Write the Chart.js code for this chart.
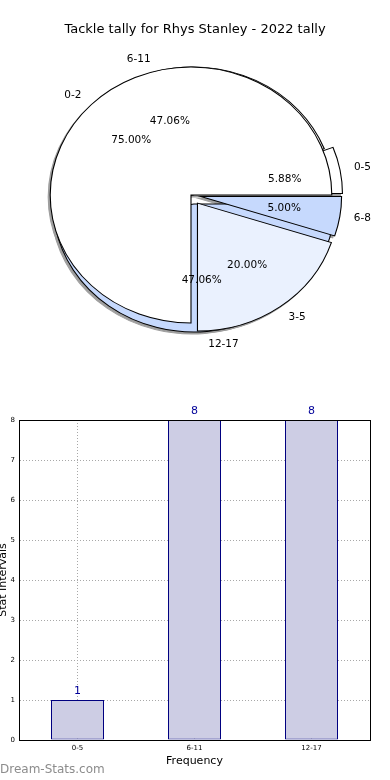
<!DOCTYPE html>
<html><head><meta charset="utf-8">
<script src="https://cdn.jsdelivr.net/npm/chart.js@4.4.1/dist/chart.umd.min.js"></script>
<style>
html,body{margin:0;padding:0;background:#fff;width:390px;height:780px;overflow:hidden;position:relative;}
#pieWrap{position:absolute;left:0;top:0;width:390px;height:390px;filter:drop-shadow(-2px 2px 0.6px rgba(0,0,0,0.38));}
#pieWrap canvas{position:absolute;left:0;top:0;}
#pieText{position:absolute;left:0;top:0;pointer-events:none;}
#bar{position:absolute;left:0;top:390px;}
</style></head><body>
<div id="pieWrap"><canvas id="pie1" width="390" height="390"></canvas><canvas id="pie2" width="390" height="390"></canvas></div>
<canvas id="pieText" width="390" height="390"></canvas>
<canvas id="bar" width="390" height="390"></canvas>
<script>
// ---- data ----
const titleText = 'Tackle tally for Rhys Stanley - 2022 tally';
const pieACategories = ['0-5', '6-11', '12-17'];
const pieAValues = [1, 8, 8];
const pieBCategories = ['0-2', '3-5', '6-8'];
const pieBValues = [75, 20, 5];
const barCategories = ['0-5', '6-11', '12-17'];
const barValues = [1, 8, 8];
const yTickMin = 0, yTickMax = 8, yTickStep = 1;
const xAxisTitle = 'Frequency';
const yAxisTitle = 'Stat Intervals';
const watermark = 'Dream-Stats.com';

// ---- style ----
const FONT = 'DejaVu Sans';
const pieAColors = ['#ffffff', '#ffffff', '#c6d9fd'];
const pieBColors = ['#ffffff', '#eaf1fe', '#c6d9fd'];
const pieAExplode = [8, 0, 9];
const pieBExplode = [0, 10, 9];
const RADIUS = 128;
const STRETCH = 1.1;

// matplotlib draws counter-clockwise from 3 o'clock; Chart.js clockwise -> reverse order, rotation 90
function rev(a){ return a.slice().reverse(); }

const explodePlugin = {
  id: 'explode',
  afterDatasetUpdate(chart, args) {
    const ex = chart.options.plugins.explode.values;
    const n = args.meta.data.length;
    args.meta.data.forEach((arc, i) => {
      const d = ex[n - 1 - i] || 0;
      const mid = (arc.startAngle + arc.endAngle) / 2;
      arc.x += Math.cos(mid) * d;
      arc.y += Math.sin(mid) * d;
    });
  },
  beforeDatasetsDraw(chart) {
    const ca = chart.chartArea;
    const cx = (ca.left + ca.right) / 2, cy = (ca.top + ca.bottom) / 2;
    const ctx = chart.ctx;
    ctx.save();
    ctx.translate(cx, cy); ctx.scale(STRETCH, 1); ctx.translate(-cx, -cy);
  },
  afterDatasetsDraw(chart) { chart.ctx.restore(); }
};

function pieConfig(values, colors, explode, padRight) {
  return {
    type: 'pie',
    data: { labels: [], datasets: [{
      data: rev(values), backgroundColor: rev(colors),
      borderColor: '#000', borderWidth: 1, borderJoinStyle: 'miter', hoverOffset: 0, clip: false
    }]},
    options: {
      responsive: false, animation: false, devicePixelRatio: 1,
      rotation: 90, radius: RADIUS,
      layout: { padding: { left: 0, right: padRight, top: 0, bottom: 0 } },
      events: [],
      plugins: { legend: { display: false }, tooltip: { enabled: false }, title: { display: false },
        explode: { values: explode } }
    },
    plugins: [explodePlugin]
  };
}

const chartA = new Chart(document.getElementById('pie1'), pieConfig(pieAValues, pieAColors, pieAExplode, 4));

function drawPieTexts(chart, categories, values, tctx) {
  const meta = chart.getDatasetMeta(0);
  const ca = chart.chartArea;
  const cx = (ca.left + ca.right) / 2;
  const total = values.reduce((a, b) => a + b, 0);
  const n = meta.data.length;
  meta.data.forEach((arc, i) => {
    const k = n - 1 - i;
    const mid = (arc.startAngle + arc.endAngle) / 2;
    const c = Math.cos(mid), s = Math.sin(mid);
    let lx = arc.x + c * RADIUS * 1.1, ly = arc.y + s * RADIUS * 1.1;
    lx = cx + (lx - cx) * STRETCH;
    tctx.textAlign = c > 0 ? 'left' : 'right';
    tctx.fillText(categories[k], lx, ly);
    let px = arc.x + c * RADIUS * 0.6, py = arc.y + s * RADIUS * 0.6;
    px = cx + (px - cx) * STRETCH;
    tctx.textAlign = 'center';
    tctx.fillText((values[k] / total * 100).toFixed(2) + '%', px, py);
  });
}

const textPlugin = {
  id: 'pieTexts',
  afterDraw(chart) {
    const tctx = document.getElementById('pieText').getContext('2d');
    tctx.clearRect(0, 0, 390, 390);
    tctx.fillStyle = '#000';
    tctx.textBaseline = 'middle';
    tctx.font = '13px "' + FONT + '"';
    tctx.textAlign = 'center';
    tctx.fillText(titleText, 195, 30);
    tctx.font = '10.5px "' + FONT + '"';
    drawPieTexts(chartA, pieACategories, pieAValues, tctx);
    drawPieTexts(chart, pieBCategories, pieBValues, tctx);
  }
};
const cfgB = pieConfig(pieBValues, pieBColors, pieBExplode, 8);
cfgB.plugins.push(textPlugin);
const chartB = new Chart(document.getElementById('pie2'), cfgB);

// ---- bar chart ----
const barExtras = {
  id: 'barExtras',
  afterDraw(chart) {
    const ctx = chart.ctx, ca = chart.chartArea;
    ctx.save();
    ctx.strokeStyle = '#000'; ctx.lineWidth = 1;
    ctx.strokeRect(Math.round(ca.left) + 0.5, Math.round(ca.top) + 0.5,
                   Math.round(ca.right - ca.left), Math.round(ca.bottom - ca.top));
    const meta = chart.getDatasetMeta(0);
    ctx.fillStyle = '#000099';
    ctx.font = '11px "' + FONT + '"';
    ctx.textAlign = 'center'; ctx.textBaseline = 'middle';
    meta.data.forEach((bar, i) => {
      ctx.fillText(String(barValues[i]), bar.x, bar.y - 9);
    });
    ctx.fillStyle = '#8c8c8c';
    ctx.font = '12px "' + FONT + '"';
    ctx.textAlign = 'left';
    ctx.fillText(watermark, 0, 380);
    ctx.restore();
  }
};

const gridCommon = { color: '#a8a8a8', lineWidth: 1, drawTicks: false, offset: false };
new Chart(document.getElementById('bar'), {
  type: 'bar',
  data: { labels: barCategories, datasets: [{
    data: barValues, backgroundColor: '#cdcde4', borderColor: '#000080', borderWidth: 1,
    borderSkipped: false, barPercentage: 53 / 117, categoryPercentage: 1
  }]},
  options: {
    responsive: false, animation: false, devicePixelRatio: 1, events: [],
    layout: { padding: { left: 0, right: 20, top: 30, bottom: 0 } },
    plugins: { legend: { display: false }, tooltip: { enabled: false } },
    scales: {
      x: {
        z: 1,
        grid: gridCommon,
        border: { display: true, color: '#000', width: 1, dash: [1, 2] },
        ticks: { font: { family: FONT, size: 7 }, color: '#000', padding: 4, maxRotation: 0 },
        title: { display: true, text: xAxisTitle, color: '#000', font: { family: FONT, size: 11 }, padding: { top: 0, bottom: 12.4 } },
        afterFit(s) { s.height = 40; }
      },
      y: {
        z: 1, min: yTickMin, max: yTickMax,
        grid: gridCommon,
        border: { display: true, color: '#000', width: 1, dash: [1, 2] },
        ticks: { stepSize: yTickStep, font: { family: FONT, size: 7 }, color: '#000', padding: 4 },
        title: { display: true, text: yAxisTitle, color: '#000', font: { family: FONT, size: 11 }, padding: { top: -3.5, bottom: 0 } },
        afterFit(s) { s.width = 19; }
      }
    }
  },
  plugins: [barExtras]
});
</script>
</body></html>
